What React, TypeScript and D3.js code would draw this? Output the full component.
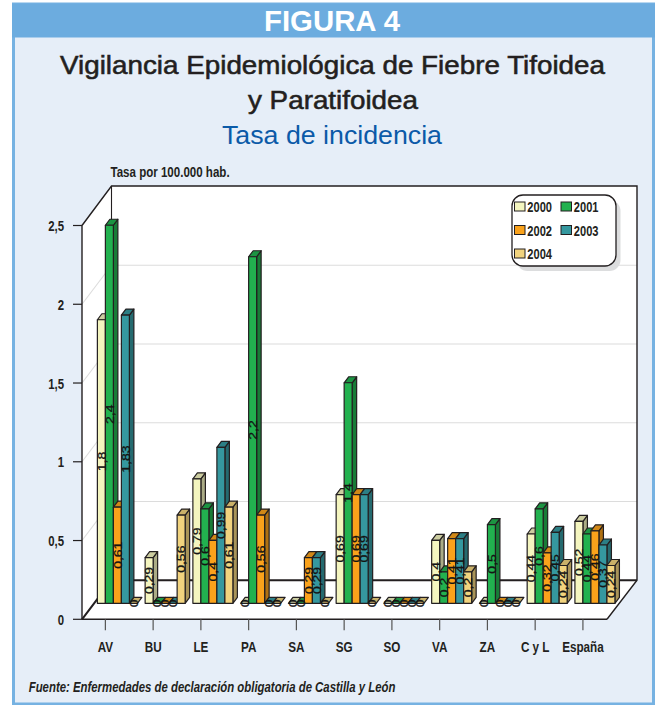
import React from "react";
import * as d3 from "d3";

const categories = ["AV", "BU", "LE", "PA", "SA", "SG", "SO", "VA", "ZA", "C y L", "España"];
const years = ["2000", "2001", "2002", "2003", "2004"];
const s2000 = [1.8, 0.29, 0.79, 0, 0, 0.69, 0, 0.4, 0, 0.44, 0.52];
const s2001 = [2.4, 0, 0.6, 2.2, 0, 1.4, 0, 0.2, 0.5, 0.6, 0.44];
const s2002 = [0.61, 0, 0.4, 0.56, 0.29, 0.69, 0, 0.41, 0, 0.32, 0.46];
const s2003 = [1.83, 0, 0.99, 0, 0.29, 0.69, 0, 0.41, 0, 0.45, 0.37];
const s2004 = [0, 0.56, 0.61, 0, 0, 0, 0, 0.2, 0, 0.24, 0.24];
const series = [s2000, s2001, s2002, s2003, s2004];
const colors = ["#f4f5bf", "#22b14f", "#faa21b", "#35989f", "#f1d37e"];
const yTicks = [0, 0.5, 1, 1.5, 2, 2.5];
const yLabels = ["0", "0,5", "1", "1,5", "2", "2,5"];

const SANS = "'Liberation Sans', Arial, sans-serif";
const INK = "#231f20";

const x = d3.scaleBand<string>().domain(categories).range([81.5, 606.8]);
const y = d3.scaleLinear().domain([0, 2.5]).range([619.3, 225.5]);
const depthX = 29.5;
const depthY = 39;
const barShiftX = 12;
const barShiftY = 16;
const barW = 8;
const topX = 4.5;
const topY = 6;

function shade(c: string, k: number) {
  return d3.rgb(c).darker(k).formatHex();
}

function poly(pts: [number, number][]) {
  return pts.map((p) => p.join(",")).join(" ");
}

function Narrow(props: { x: number; y: number; size?: number; sx?: number; anchor?: string; italic?: boolean; children: React.ReactNode }) {
  const { x: px, y: py, size = 14.8, sx = 0.77, anchor = "start", italic = false, children } = props;
  return (
    <text
      transform={`translate(${px},${py}) scale(${sx},1)`}
      textAnchor={anchor}
      fontFamily={SANS}
      fontWeight={700}
      fontStyle={italic ? "italic" : "normal"}
      fontSize={size}
      fill={INK}
    >
      {children}
    </text>
  );
}

export default function App() {
  const x0 = 82, x1 = 607, yb = y(0), yt = y(2.5);
  const backTop = 186;
  const backX = x0 + depthX;
  const backY = yb - depthY;
  return (
    <svg width={660} height={705} style={{ position: "absolute", left: 0, top: 0, background: "#fff" }}>
      {/* Frame */}
      <rect x={13.5} y={4} width={640} height={700} fill="#e6eef8" stroke="#76b2e2" strokeWidth={3} />
      <rect x={12} y={3.5} width={643} height={34} fill="#6cacdf" />
      <text x={332} y={30.7} textAnchor="middle" fontFamily={SANS} fontWeight={700} fontSize={28.7} fill="#fff" textLength={136} lengthAdjust="spacingAndGlyphs">FIGURA 4</text>
      <text x={332.5} y={73.5} textAnchor="middle" fontFamily={SANS} fontSize={25.7} fill={INK} stroke={INK} strokeWidth={0.55} textLength={545} lengthAdjust="spacingAndGlyphs">Vigilancia Epidemiológica de Fiebre Tifoidea</text>
      <text x={333} y={109} textAnchor="middle" fontFamily={SANS} fontSize={25.7} fill={INK} stroke={INK} strokeWidth={0.55} textLength={170} lengthAdjust="spacingAndGlyphs">y Paratifoidea</text>
      <text x={332} y={143.5} textAnchor="middle" fontFamily={SANS} fontSize={25.5} fill="#0b5aa8" textLength={220} lengthAdjust="spacingAndGlyphs">Tasa de incidencia</text>

      {/* Walls and floor */}
      <polygon points={poly([[x0, yt], [backX, backTop], [637, backTop], [637, backY], [x1, yb], [x0, yb]])} fill="#fff" />
      {yTicks.filter((t) => t > 0 && t < 2.5).map((t) => (
        <g key={t} stroke="#dcdcdc" strokeWidth={1.1} fill="none">
          <line x1={x0} y1={y(t)} x2={backX} y2={y(t) - depthY} />
          <line x1={backX} y1={y(t) - depthY} x2={637} y2={y(t) - depthY} />
        </g>
      ))}
      <polyline points={poly([[x0, yt], [backX, backTop], [637, backTop], [637, backY], [x1, yb]])} fill="none" stroke={INK} strokeWidth={1.4} />
      <line x1={backX} y1={backTop} x2={backX} y2={backY} stroke={INK} strokeWidth={1.1} />
      <polyline points={poly([[x0, yb], [backX, backY], [637, backY]])} fill="none" stroke={INK} strokeWidth={2} />
      <line x1={x0} y1={yt} x2={x0} y2={yb} stroke={INK} strokeWidth={1.4} />
      <line x1={x0} y1={yb} x2={x1} y2={yb} stroke={INK} strokeWidth={1.6} />

      {/* Y axis */}
      {yTicks.map((t, i) => (
        <g key={t}>
          <line x1={x0 - 9} x2={x0} y1={y(t)} y2={y(t)} stroke={INK} strokeWidth={1.2} />
          <Narrow x={64} y={y(t) + 5.5} anchor="end">{yLabels[i]}</Narrow>
        </g>
      ))}
      <Narrow x={110.5} y={177.3} size={15}>Tasa por 100.000 hab.</Narrow>

      {/* X axis */}
      {categories.map((c) => {
        const cx = x(c)! + x.bandwidth() / 2;
        return (
          <g key={c}>
            <line x1={cx} x2={cx} y1={yb} y2={yb + 11} stroke="#555" strokeWidth={1.2} />
            <Narrow x={cx} y={651.7} anchor="middle" size={15.2}>{c}</Narrow>
          </g>
        );
      })}

      {/* Bars */}
      {categories.map((c, ci) => {
        const cx = x(c)! + x.bandwidth() / 2 + barShiftX;
        const start = cx - (barW * years.length) / 2;
        return (
          <g key={c}>
            {[0, 1, 2, 3, 4].map((si) => {
              const v = series[si][ci];
              const bx = start + si * barW;
              const base = y(0) - barShiftY;
              const top = y(v) - barShiftY;
              const col = colors[si];
              return (
                <g key={si} stroke={INK} strokeWidth={1.2} strokeLinejoin="round">
                  {v > 0 && (
                    <polygon points={poly([[bx + barW, top], [bx + barW + topX, top - topY], [bx + barW + topX, base - topY], [bx + barW, base]])} fill={shade(col, 1)} />
                  )}
                  <polygon points={poly([[bx, top], [bx + topX, top - topY], [bx + barW + topX, top - topY], [bx + barW, top]])} fill={shade(col, 0.5)} />
                  {v > 0 && <rect x={bx} y={top} width={barW} height={base - top} fill={col} />}
                </g>
              );
            })}
            {[0, 1, 2, 3, 4].map((si) => {
              const v = series[si][ci];
              const bx = start + si * barW + barW / 2;
              const my = (y(v) + y(0)) / 2 - barShiftY;
              return (
                <text key={si} transform={`translate(${bx + 4.2},${my}) rotate(-90) scale(1.25,1)`} textAnchor="middle" fontFamily={SANS} fontSize={11.2} fill="#141414" stroke="#141414" strokeWidth={0.25}>
                  {String(v).replace(".", ",")}
                </text>
              );
            })}
          </g>
        );
      })}

      {/* Legend */}
      <rect x={516.5} y={200} width={104} height={71} rx={11} fill="#dcddde" />
      <rect x={512} y={195} width={104} height={71} rx={11} fill="#fff" stroke={INK} strokeWidth={1.3} />
      {years.map((yr, i) => {
        const lx = 514.5 + (i % 2) * 46.5;
        const ly = 202 + Math.floor(i / 2) * 23.5;
        return (
          <g key={yr}>
            <rect x={lx} y={ly} width={10.5} height={9} fill={colors[i]} stroke={INK} strokeWidth={1} />
            <Narrow x={lx + 12.8} y={ly + 10} size={14.6} sx={0.76}>{yr}</Narrow>
          </g>
        );
      })}

      <Narrow x={28.7} y={692} italic>Fuente: Enfermedades de declaración obligatoria de Castilla y León</Narrow>
    </svg>
  );
}
